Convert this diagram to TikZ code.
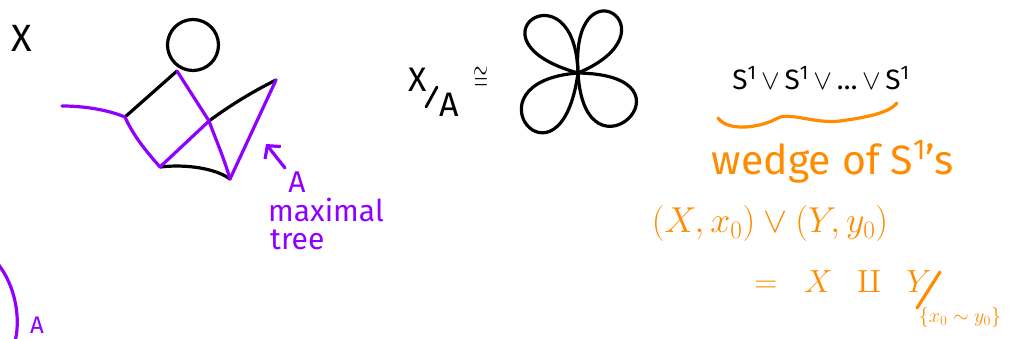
\RequirePackage{fix-cm}
\documentclass[tikz,border=0pt]{standalone}
\usepackage{fontspec}
\setmainfont{Fira Sans}
\usetikzlibrary{arrows.meta}
\definecolor{vio}{RGB}{143,0,255}
\definecolor{orng}{RGB}{255,140,0}
\begin{document}
\begin{tikzpicture}[x=1pt,y=-1pt,line cap=round,line join=round,
  blk/.style={line width=3.2pt,black},
  pur/.style={line width=3.2pt,vio},
  org/.style={line width=3.2pt,orng},
  txt/.style={inner sep=0pt},
  fs/.style={font=\fontsize{#1}{#1}\selectfont}]
\useasboundingbox (0,0) rectangle (1013,339);
% ---- graph X ----
\node[txt,fs=38] (Xlab) at (22,38) {X};
\node[draw,circle,line width=3.2pt,minimum size=51pt,inner sep=0pt] (loop) at (193,45) {};
\coordinate (v1) at (177,71);
\coordinate (v2) at (125,117);
\coordinate (v3) at (160,167);
\coordinate (v4) at (209,121);
\coordinate (v5) at (230,179);
\coordinate (v6) at (276,80);
\coordinate (t0) at (62,106);
\draw[blk] (v1) -- (v2);
\draw[blk] (v4) .. controls (232,104) and (254,91) .. (v6);
\draw[blk] (v3) .. controls (185,164) and (215,168) .. (v5);
\draw[pur] (t0) .. controls (85,106) and (108,110) .. (v2);
\draw[pur] (v2) .. controls (133,135) and (145,150) .. (v3);
\draw[pur] (v3) -- (v4);
\draw[pur] (v1) -- (v4);
\draw[pur] (v4) .. controls (216,140) and (224,158) .. (v5);
\draw[pur] (v5) -- (v6);
% arrow and labels
\coordinate (arrtail) at (285,168);
\coordinate (arrtip) at (266,144);
\draw[pur,-{Straight Barb[length=9pt,width=20pt]}] (arrtail) -- (arrtip);
\node[txt,fs=30,text=vio] (Alab) at (297,182) {A};
\node[txt,fs=30,text=vio,anchor=base west] (maxl) at (268,222) {maximal};
\node[txt,fs=30,text=vio,anchor=base west] (tree) at (270,250) {tree};
% bottom-left arc
\coordinate (arc0) at (-2,264);
\coordinate (arc1) at (14,345);
\draw[pur] (arc0) .. controls (15,285) and (22,320) .. (arc1);
\node[txt,fs=24,text=vio] (A2) at (37,325) {A};
% ---- X/A ----
\node[txt,fs=34] (Xq) at (418,80) {X};
\node[txt,fs=34] (Aq) at (449,105) {A};
\coordinate (sl0) at (426,107);
\coordinate (sl1) at (437,87);
\draw[blk,line width=2.8pt] (sl0) -- (sl1);
\node[txt,fs=24] (cong) at (481,79) {\scalebox{0.8}[1.4]{$\cong$}};
% clover
\coordinate (C) at (578,73);
\draw[blk] (C) .. controls (575,-38) and (460,40) .. (C);
\draw[blk] (C) .. controls (570,-42) and (680,30) .. (C);
\draw[blk] (C) .. controls (460,82) and (560,203) .. (C);
\draw[blk] (C) .. controls (585,192) and (706,75) .. (C);
% ---- wedge ----
\node[txt,fs=28] (wexpr) at (821,78) {S\textsuperscript{1}\,$\vee$\,S\textsuperscript{1}\,$\vee$\,\ldots\,$\vee$\,S\textsuperscript{1}};
\coordinate (br0) at (718,118);
\coordinate (br1) at (897,103);
\draw[org] (br0) .. controls (728,132) and (760,128) .. (778,118)
  .. controls (790,112) and (815,124) .. (840,121)
  .. controls (870,117) and (890,112) .. (br1);
\node[txt,fs=41,text=orng] (wedge) at (833,162) {wedge of S\textsuperscript{1}'s};
\node[txt,fs=36,text=orng] (pair) at (770,224) {$(X,x_0)\vee(Y,y_0)$};
\node[txt,fs=32,text=orng] (eq) at (843,282) {$=\;\;X\;\;\amalg\;\;Y$};
\coordinate (sq0) at (917,308);
\coordinate (sq1) at (940,272);
\draw[org] (sq0) -- (sq1);
\node[txt,fs=20,text=orng] (rel) at (960,318) {$\{x_0\sim y_0\}$};
\end{tikzpicture}
\end{document}
